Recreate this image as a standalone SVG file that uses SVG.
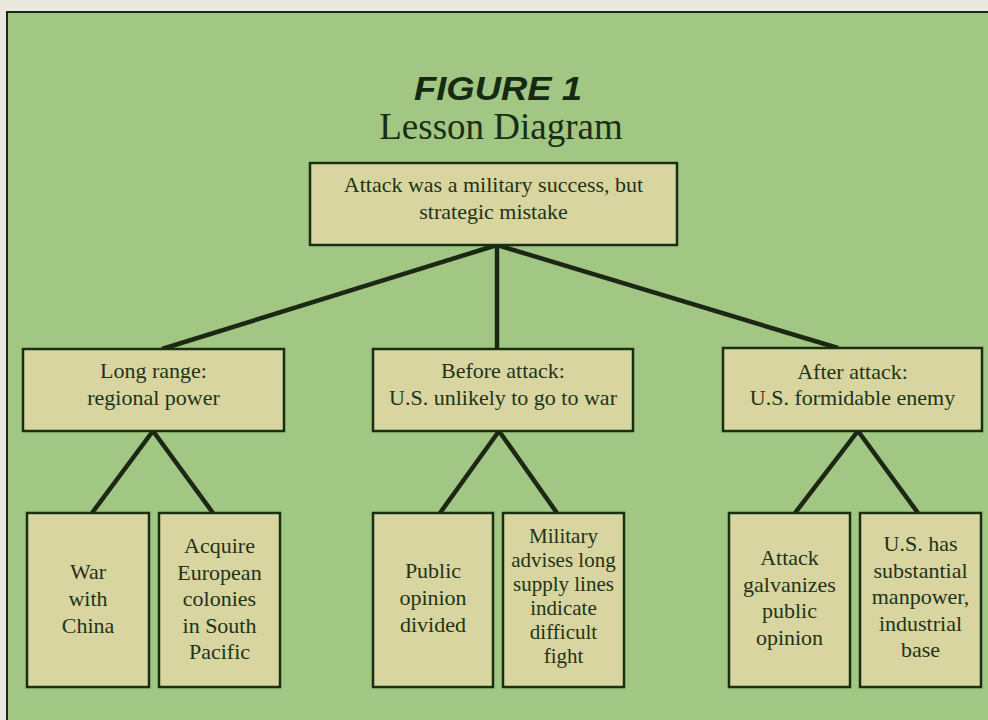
<svg xmlns="http://www.w3.org/2000/svg" width="988" height="720" viewBox="0 0 988 720">
<style>
.box{fill:#d8d5a0;stroke:#17300f;stroke-width:2.5}
.t{font-family:"Liberation Serif",serif;font-size:22px;fill:#1f3318;text-anchor:middle}
.s{font-size:21px}
.ln{stroke:#1c2814;stroke-width:4.5;stroke-linecap:butt;fill:none}
</style>
<rect x="0" y="0" width="988" height="720" fill="#ebe8df"/>
<rect x="7" y="12" width="990" height="720" fill="#a2c684" stroke="#1a2a12" stroke-width="2"/>
<g id="title">
<text x="498" y="100" font-family="Liberation Sans,sans-serif" font-weight="bold" font-style="italic" font-size="33" fill="#152a10" text-anchor="middle" textLength="168" lengthAdjust="spacingAndGlyphs">FIGURE 1</text>
<text x="501" y="139" font-family="Liberation Serif,serif" font-size="37" fill="#1a2e14" text-anchor="middle">Lesson Diagram</text>
</g>
<g id="connectors">
<line class="ln" x1="497" y1="245" x2="162" y2="349"/>
<line class="ln" x1="497" y1="245" x2="497" y2="348"/>
<line class="ln" x1="497" y1="245" x2="838" y2="348"/>
<polyline class="ln" points="92,513 153,431 213,513"/>
<polyline class="ln" points="440,513 499,431 557,513"/>
<polyline class="ln" points="795,513 858,431 918,513"/>
</g>
<g id="root">
<rect class="box" x="310" y="163" width="367" height="82"/>
<text class="t" x="493.5" y="192">Attack was a military success, but</text>
<text class="t" x="493.5" y="219">strategic mistake</text>
</g>
<g id="long-range">
<rect class="box" x="23" y="349" width="261" height="82"/>
<text class="t" x="153.5" y="378">Long range:</text>
<text class="t" x="153.5" y="405">regional power</text>
</g>
<g id="before-attack">
<rect class="box" x="373" y="349" width="260" height="82"/>
<text class="t" x="503" y="378">Before attack:</text>
<text class="t" x="503" y="405">U.S. unlikely to go to war</text>
</g>
<g id="after-attack">
<rect class="box" x="723" y="348" width="259" height="83"/>
<text class="t" x="852.5" y="379">After attack:</text>
<text class="t" x="852.5" y="405">U.S. formidable enemy</text>
</g>
<g id="war-china">
<rect class="box" x="27" y="513" width="122" height="174"/>
<text class="t" x="88" y="579">War</text>
<text class="t" x="88" y="606">with</text>
<text class="t" x="88" y="633">China</text>
</g>
<g id="acquire-colonies">
<rect class="box" x="159" y="513" width="121" height="174"/>
<text class="t" x="219.5" y="553">Acquire</text>
<text class="t" x="219.5" y="580">European</text>
<text class="t" x="219.5" y="606">colonies</text>
<text class="t" x="219.5" y="633">in South</text>
<text class="t" x="219.5" y="659">Pacific</text>
</g>
<g id="public-opinion">
<rect class="box" x="373" y="513" width="120" height="174"/>
<text class="t" x="433" y="578">Public</text>
<text class="t" x="433" y="605">opinion</text>
<text class="t" x="433" y="632">divided</text>
</g>
<g id="military-advises">
<rect class="box" x="503" y="513" width="121" height="174"/>
<text class="t s" x="563.5" y="543">Military</text>
<text class="t s" x="563.5" y="567">advises long</text>
<text class="t s" x="563.5" y="591">supply lines</text>
<text class="t s" x="563.5" y="615">indicate</text>
<text class="t s" x="563.5" y="639">difficult</text>
<text class="t s" x="563.5" y="663">fight</text>
</g>
<g id="galvanizes">
<rect class="box" x="729" y="513" width="121" height="174"/>
<text class="t" x="789.5" y="565">Attack</text>
<text class="t" x="789.5" y="592">galvanizes</text>
<text class="t" x="789.5" y="618">public</text>
<text class="t" x="789.5" y="645">opinion</text>
</g>
<g id="manpower">
<rect class="box" x="860" y="513" width="121" height="174"/>
<text class="t" x="920.5" y="551">U.S. has</text>
<text class="t" x="920.5" y="578">substantial</text>
<text class="t" x="920.5" y="604">manpower,</text>
<text class="t" x="920.5" y="631">industrial</text>
<text class="t" x="920.5" y="657">base</text>
</g>
</svg>
